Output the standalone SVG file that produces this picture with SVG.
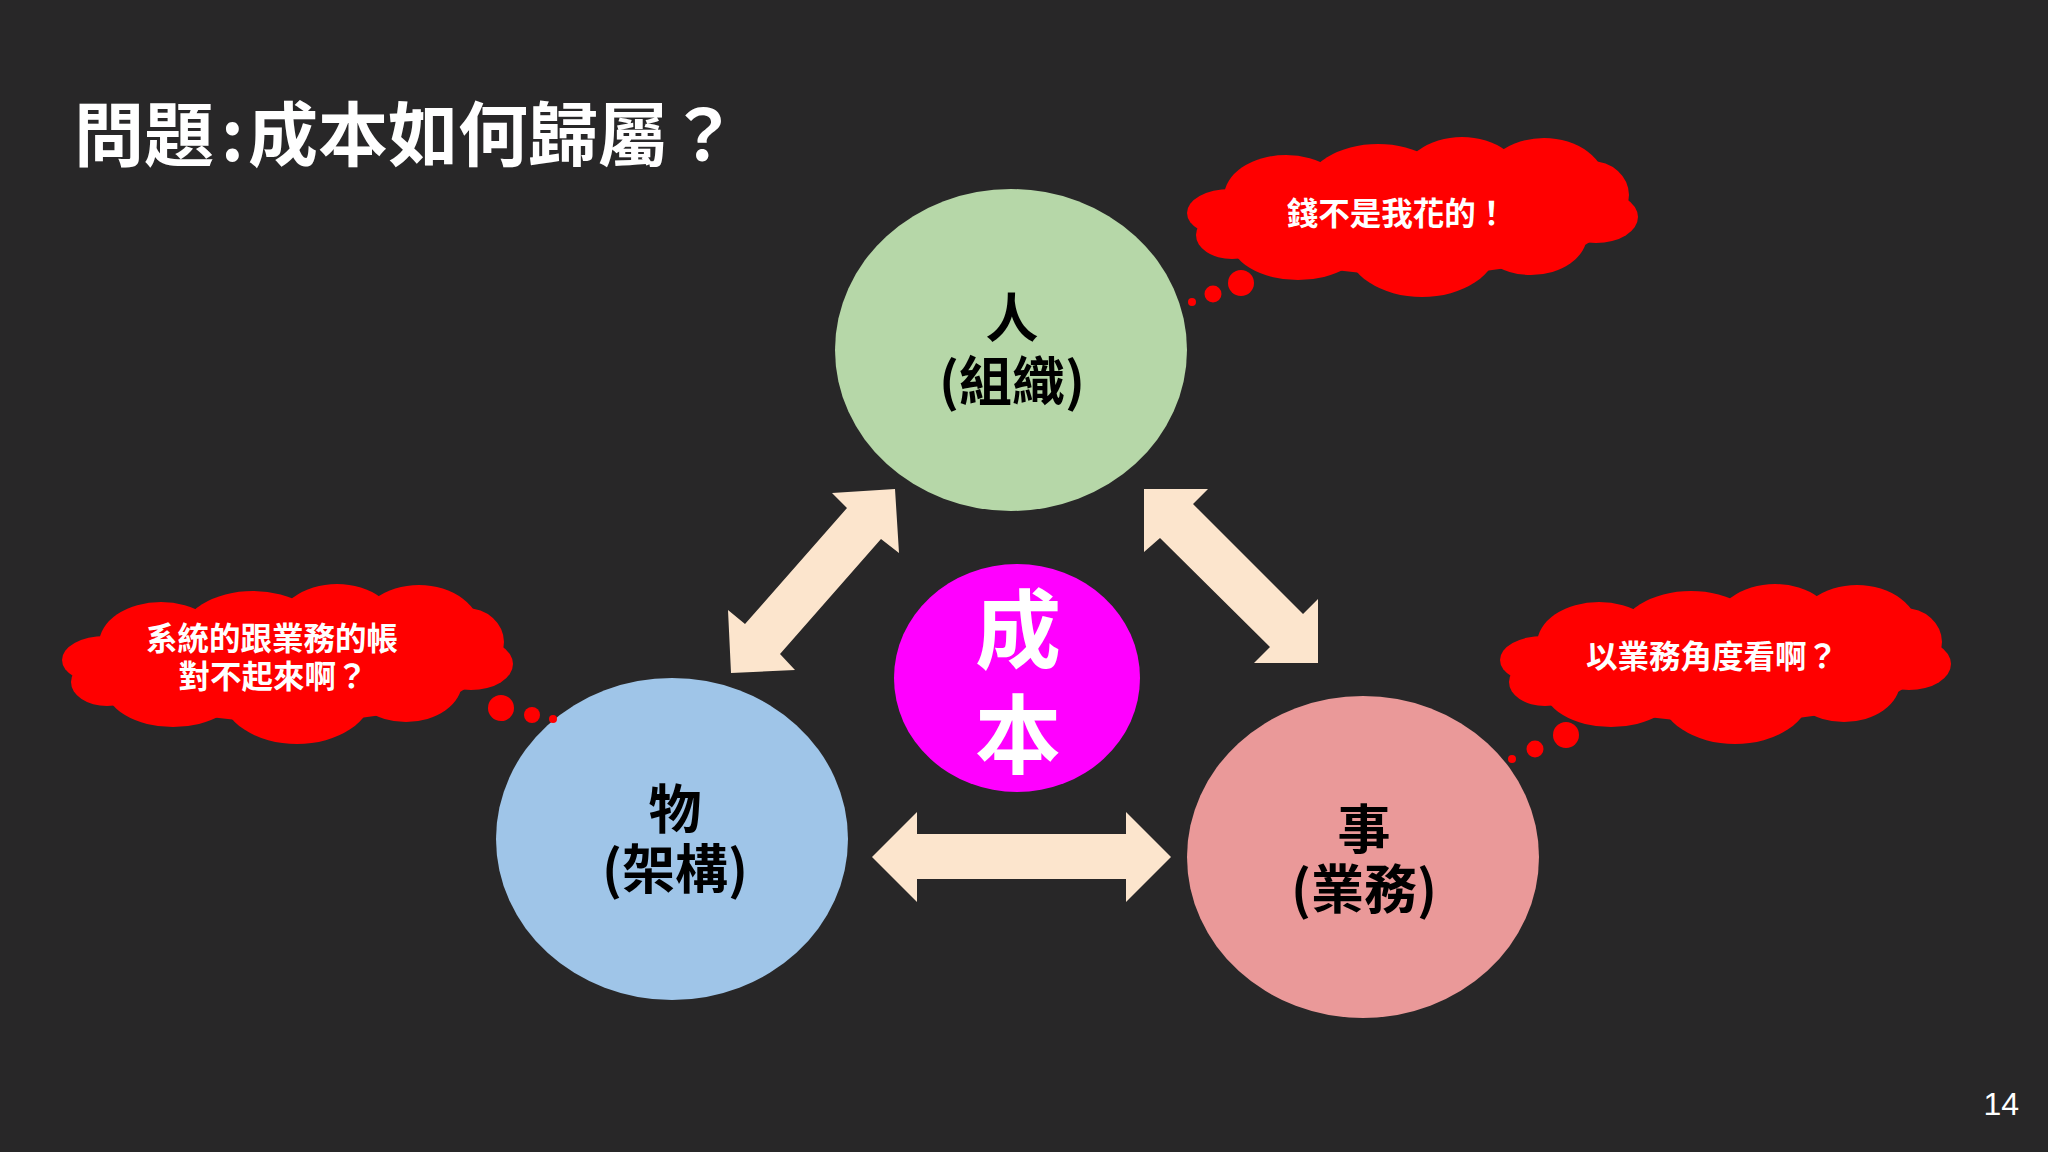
<svg xmlns="http://www.w3.org/2000/svg" xmlns:xlink="http://www.w3.org/1999/xlink" width="2048" height="1152" viewBox="0 0 2048 1152">
  <style>
    .cjk { font-family: "Noto Sans CJK TC", "Noto Sans CJK SC", sans-serif; font-weight: 700; }
    .lbl { font-size: 53px; fill: #000; text-anchor: middle; }
    .say { font-size: 31.5px; fill: #fff; text-anchor: middle; }
    .arrow { fill: #fce5cd; }
    .red { fill: #ff0000; }
  </style>
  <defs>
    <g id="cloud" class="red">
      <ellipse cx="228" cy="82" rx="195" ry="58"/>
      <ellipse cx="44" cy="78" rx="43" ry="24"/>
      <ellipse cx="100" cy="62" rx="62" ry="42"/>
      <ellipse cx="192" cy="54" rx="72" ry="45"/>
      <ellipse cx="276" cy="48" rx="62" ry="46"/>
      <ellipse cx="358" cy="50" rx="62" ry="47"/>
      <ellipse cx="405" cy="60" rx="38" ry="34"/>
      <ellipse cx="410" cy="82" rx="42" ry="26"/>
      <ellipse cx="345" cy="100" rx="56" ry="40"/>
      <ellipse cx="236" cy="112" rx="75" ry="50"/>
      <ellipse cx="112" cy="104" rx="68" ry="41"/>
      <ellipse cx="46" cy="100" rx="36" ry="24"/>
    </g>
  </defs>

  <rect x="0" y="0" width="2048" height="1152" fill="#282728"/>

  <g id="title">
    <text class="cjk" font-size="70" fill="#fff" y="161"><tspan x="74">問題</tspan><tspan x="221">:</tspan><tspan x="248">成本如何歸屬？</tspan></text>
  </g>

  <g id="connectors">
    <polygon class="arrow" points="895,489 832,493 847,508 745,624 728,610 731,673 795,670 780,654 881,539 899,553"/>
    <polygon class="arrow" points="1144,489 1208,489 1193,504 1303,614 1318,599 1318,663 1254,663 1270,647 1160,538 1144,552"/>
    <polygon class="arrow" points="872,857 917,812 917,834 1126,834 1126,812 1171,857 1126,902 1126,879 917,879 917,902"/>
  </g>

  <g id="node-people">
    <ellipse cx="1011" cy="350" rx="176" ry="161" fill="#b6d7a8"/>
    <text class="cjk lbl"><tspan x="1012" y="338">人</tspan><tspan x="1012" y="401">(組織)</tspan></text>
  </g>

  <g id="node-things">
    <ellipse cx="672" cy="839" rx="176" ry="161" fill="#9fc5e8"/>
    <text class="cjk lbl"><tspan x="675" y="829">物</tspan><tspan x="675" y="889">(架構)</tspan></text>
  </g>

  <g id="node-business">
    <ellipse cx="1363" cy="857" rx="176" ry="161" fill="#ea9999"/>
    <text class="cjk lbl"><tspan x="1364" y="849">事</tspan><tspan x="1364" y="909">(業務)</tspan></text>
  </g>

  <g id="node-cost">
    <ellipse cx="1017" cy="678" rx="123" ry="114" fill="#ff00ff"/>
    <text class="cjk" font-size="86" fill="#fff" text-anchor="middle"><tspan x="1018" y="662">成</tspan><tspan x="1018" y="767">本</tspan></text>
  </g>

  <g id="callout-money">
    <use xlink:href="#cloud" href="#cloud" x="1186" y="135"/>
    <circle class="red" cx="1241" cy="283" r="13"/>
    <circle class="red" cx="1213" cy="294" r="8.5"/>
    <circle class="red" cx="1192" cy="302" r="4"/>
    <text class="cjk say" x="1397" y="225">錢不是我花的！</text>
  </g>

  <g id="callout-accounts">
    <use xlink:href="#cloud" href="#cloud" x="61" y="582"/>
    <circle class="red" cx="501" cy="708" r="13"/>
    <circle class="red" cx="532" cy="715" r="8"/>
    <circle class="red" cx="553" cy="719" r="4"/>
    <text class="cjk say"><tspan x="272" y="650">系統的跟業務的帳</tspan><tspan x="273" y="688">對不起來啊？</tspan></text>
  </g>

  <g id="callout-view">
    <use xlink:href="#cloud" href="#cloud" x="1499" y="582"/>
    <circle class="red" cx="1566" cy="735" r="13"/>
    <circle class="red" cx="1535" cy="749" r="8.5"/>
    <circle class="red" cx="1512" cy="759" r="4"/>
    <text class="cjk say" x="1712" y="668">以業務角度看啊？</text>
  </g>

  <g id="page-number">
    <text x="2019" y="1115" font-family="Liberation Sans, Arial, sans-serif" font-size="32" fill="#fff" text-anchor="end">14</text>
  </g>
</svg>
